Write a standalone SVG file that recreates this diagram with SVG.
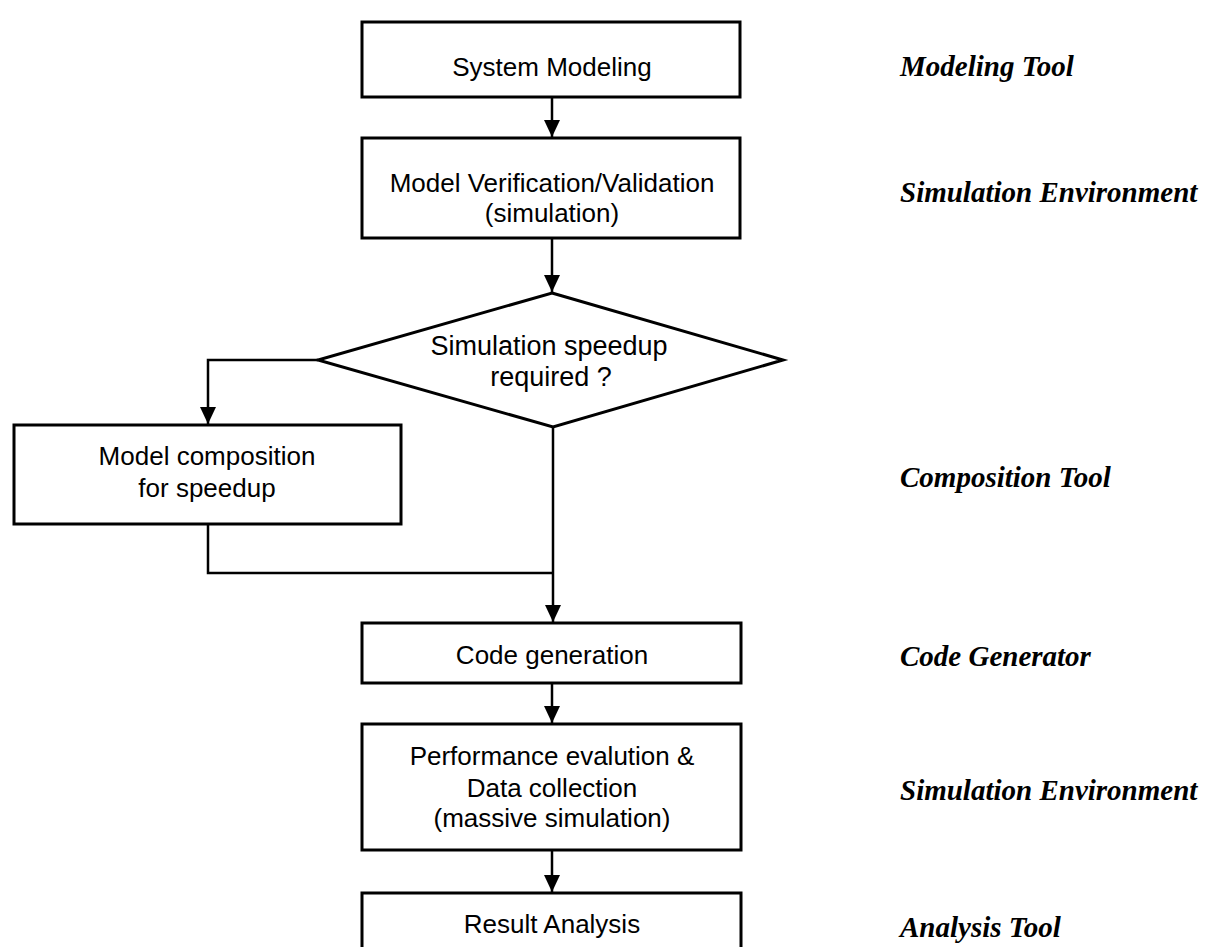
<svg xmlns="http://www.w3.org/2000/svg" width="1209" height="947" viewBox="0 0 1209 947">
<defs>
<style>
.box{fill:#fff;stroke:#000;stroke-width:3}
.t{font-family:"Liberation Sans",Arial,sans-serif;font-size:26px;fill:#000;text-anchor:middle}
.lbl{font-family:"Liberation Serif","Times New Roman",serif;font-size:29px;font-weight:bold;font-style:italic;fill:#000}
.c{fill:none;stroke:#000;stroke-width:2.5}
</style>
<marker id="ah" markerUnits="userSpaceOnUse" markerWidth="18" markerHeight="16" refX="17" refY="8" orient="auto">
<path d="M0,0 L17,8 L0,16 z" fill="#000"/>
</marker>
</defs>
<rect width="1209" height="947" fill="#fff"/>
<g id="connectors">
<line class="c" x1="552" y1="97" x2="552" y2="137" marker-end="url(#ah)"/>
<line class="c" x1="552" y1="238" x2="552" y2="292" marker-end="url(#ah)"/>
<polyline class="c" points="318,360 208,360 208,424" marker-end="url(#ah)"/>
<polyline class="c" points="208,524 208,573 553,573"/>
<line class="c" x1="553" y1="427" x2="553" y2="622" marker-end="url(#ah)"/>
<line class="c" x1="552" y1="683" x2="552" y2="723" marker-end="url(#ah)"/>
<line class="c" x1="552" y1="850" x2="552" y2="892" marker-end="url(#ah)"/>
</g>
<g id="n1"><rect class="box" x="362" y="22" width="378" height="75"/><text class="t" x="552" y="76">System Modeling</text></g>
<g id="n2"><rect class="box" x="362" y="138" width="378" height="100"/><text class="t" x="552" y="192">Model Verification/Validation</text><text class="t" x="552" y="222">(simulation)</text></g>
<g id="n3"><polygon class="box" points="552,293 783,360 553,427 318,360"/><text class="t" x="549" y="355" style="font-size:27px">Simulation speedup</text><text class="t" x="551" y="386" style="font-size:27px">required ?</text></g>
<g id="n4"><rect class="box" x="14" y="425" width="387" height="99"/><text class="t" x="207" y="465">Model composition</text><text class="t" x="207" y="497">for speedup</text></g>
<g id="n5"><rect class="box" x="362" y="623" width="379" height="60"/><text class="t" x="552" y="664">Code generation</text></g>
<g id="n6"><rect class="box" x="362" y="724" width="379" height="126"/><text class="t" x="552" y="765">Performance evalution &amp;</text><text class="t" x="552" y="797">Data collection</text><text class="t" x="552" y="827">(massive simulation)</text></g>
<g id="n7"><rect class="box" x="362" y="893" width="379" height="70"/><text class="t" x="552" y="933">Result Analysis</text></g>
<g id="labels">
<text class="lbl" x="900" y="76">Modeling Tool</text>
<text class="lbl" x="900" y="202">Simulation Environment</text>
<text class="lbl" x="900" y="487">Composition Tool</text>
<text class="lbl" x="900" y="666">Code Generator</text>
<text class="lbl" x="900" y="800">Simulation Environment</text>
<text class="lbl" x="900" y="937">Analysis Tool</text>
</g>
</svg>
